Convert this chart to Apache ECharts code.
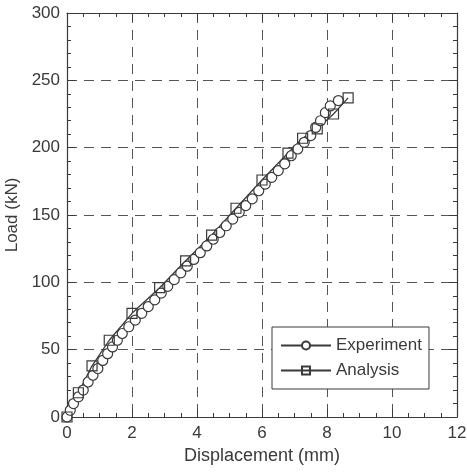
<!DOCTYPE html>
<html><head><meta charset="utf-8">
<script src="https://cdn.jsdelivr.net/npm/echarts@6/dist/echarts.min.js"></script>
<style>html,body{margin:0;padding:0;background:#fff}#c{width:467px;height:474px}</style>
</head><body><div id="c"></div>
<script>
const expX = [0,0.1,0.2,0.35,0.5,0.65,0.8,0.95,1.1,1.25,1.4,1.55,1.7,1.9,2.1,2.3,2.5,2.7,2.9,3.1,3.3,3.5,3.7,3.9,4.1,4.3,4.5,4.7,4.9,5.1,5.3,5.5,5.7,5.9,6.1,6.3,6.5,6.7,6.9,7.1,7.3,7.5,7.65,7.8,7.95,8.1,8.35];
const expY = [0,5,10,15,20,26,31,36,42,47,52,57,62,67,72,77,82,87,92,97,102,107,112,117,122,127,132,137,142,147,152,157,162,168,173,178,183,188,194,199,204,209,215,220,226,231,235];
const anaX = [0,0.35,0.77,1.3,2.0,2.85,3.65,4.45,5.2,6.0,6.8,7.25,7.7,8.2,8.65];
const anaY = [0,18,38,57,77,96,116,135,155,176,196,207,214,225,237];
const xTicks = [0,2,4,6,8,10,12];
const yTicks = [0,50,100,150,200,250,300];

const ink = '#3a3a3a';
const font = 'Liberation Sans, Arial, sans-serif';
const chart = echarts.init(document.getElementById('c'));
const line = {show:true,onZero:false,lineStyle:{color:ink,width:1.2}};
const tick = {show:true,inside:true,length:8,lineStyle:{color:ink}};
chart.setOption({
  animation:false,
  grid:{left:67,right:10,top:13,bottom:57,containLabel:false,outerBoundsMode:'none'},
  legend:{
    left:272, top:327, orient:'vertical', itemGap:8, itemWidth:50, itemHeight:10,
    backgroundColor:'#fff', borderColor:ink, borderWidth:1, padding:[10,7,10,8],
    textStyle:{color:ink,fontFamily:font,fontSize:17},
    data:['Experiment','Analysis']
  },
  xAxis:[
    {type:'value',min:xTicks[0],max:xTicks[xTicks.length-1],interval:2,position:'bottom',
      axisLine:line,axisTick:tick,
      minorTick:{show:true,splitNumber:4,length:4,lineStyle:{color:ink}},
      name:'Displacement (mm)',nameLocation:'middle',nameGap:30,
      nameTextStyle:{color:ink,fontFamily:font,fontSize:18},
      axisLabel:{color:ink,fontFamily:font,fontSize:17,margin:8},
      splitLine:{show:true,lineStyle:{color:'#555',type:[10,7],width:1}}},
    {type:'value',min:0,max:12,interval:2,position:'top',
      axisLine:line,axisTick:tick,
      minorTick:{show:true,splitNumber:4,length:4,lineStyle:{color:ink}},
      axisLabel:{show:false},splitLine:{show:false}}
  ],
  yAxis:[
    {type:'value',min:yTicks[0],max:yTicks[yTicks.length-1],interval:50,position:'left',
      axisLine:line,axisTick:tick,
      minorTick:{show:true,splitNumber:5,length:4,lineStyle:{color:ink}},
      name:'Load (kN)',nameLocation:'middle',nameGap:46,nameRotate:90,
      nameTextStyle:{color:ink,fontFamily:font,fontSize:17},
      axisLabel:{color:ink,fontFamily:font,fontSize:17,margin:7},
      splitLine:{show:true,lineStyle:{color:'#555',type:[10,7],width:1}}},
    {type:'value',min:0,max:300,interval:50,position:'right',
      axisLine:line,axisTick:tick,
      minorTick:{show:true,splitNumber:5,length:4,lineStyle:{color:ink}},
      axisLabel:{show:false},splitLine:{show:false}}
  ],
  series:[
    {name:'Experiment',type:'line',xAxisIndex:0,yAxisIndex:0,
      data:expX.map((x,i)=>[x,expY[i]]),
      symbol:'circle',symbolSize:10,showAllSymbol:true,
      lineStyle:{color:ink,width:1},
      itemStyle:{color:'#fff',borderColor:ink,borderWidth:1.2}},
    {name:'Analysis',type:'line',xAxisIndex:0,yAxisIndex:0,
      data:anaX.map((x,i)=>[x,anaY[i]]),
      symbol:'rect',symbolSize:10,showAllSymbol:true,
      lineStyle:{color:ink,width:1.3},
      itemStyle:{color:'rgba(255,255,255,0)',borderColor:ink,borderWidth:1.2}}
  ]
});
</script></body></html>
